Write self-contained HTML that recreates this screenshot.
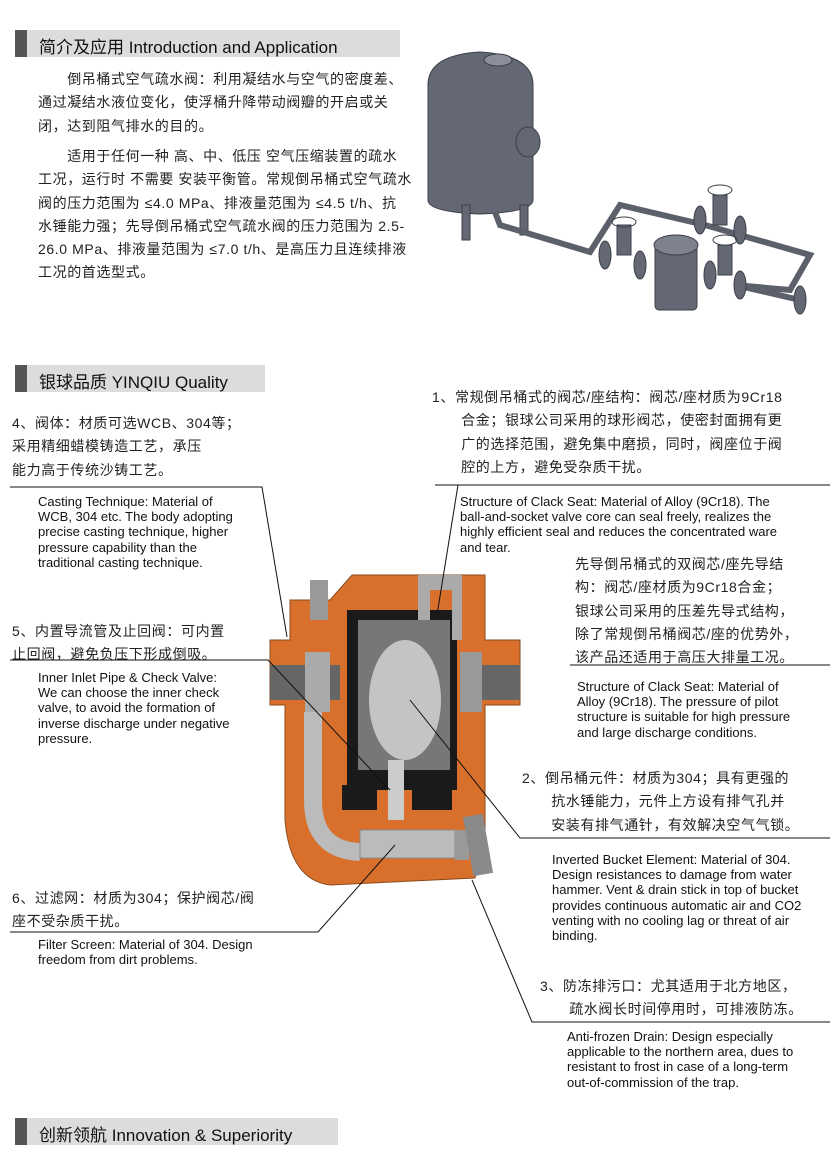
<!DOCTYPE html>
<html><head><meta charset="utf-8"><style>
body{margin:0;background:#fff;}
#p{position:relative;width:840px;height:1155px;overflow:hidden;font-family:"Liberation Sans","Noto Sans CJK SC",sans-serif;color:#222;}
.h{position:absolute;left:15px;height:27px;background:#dcdcdc;}
.h i{position:absolute;left:0;top:0;width:12px;height:27px;background:#555;}
.h span{position:absolute;left:24px;top:3px;font-size:17px;white-space:nowrap;color:#111;}
.t{position:absolute;font-size:14px;line-height:23.3px;white-space:nowrap;letter-spacing:0.6px;}
.e{position:absolute;font-size:13px;line-height:15.2px;white-space:nowrap;color:#111;}
</style></head><body><div id="p">
<div class="h" style="top:30px;width:385px"><i></i><span>简介及应用 Introduction and Application</span></div>
<div class="h" style="top:365px;width:250px"><i></i><span>银球品质 YINQIU Quality</span></div>
<div class="h" style="top:1118px;width:323px"><i></i><span>创新领航 Innovation &amp; Superiority</span></div>

<div class="t" style="left:38px;top:68px">　　倒吊桶式空气疏水阀：利用凝结水与空气的密度差、<br>通过凝结水液位变化，使浮桶升降带动阀瓣的开启或关<br>闭，达到阻气排水的目的。</div>
<div class="t" style="left:38px;top:145px">　　适用于任何一种 高、中、低压 空气压缩装置的疏水<br>工况，运行时 不需要 安装平衡管。常规倒吊桶式空气疏水<br>阀的压力范围为 ≤4.0 MPa、排液量范围为 ≤4.5 t/h、抗<br>水锤能力强；先导倒吊桶式空气疏水阀的压力范围为 2.5-<br>26.0 MPa、排液量范围为 ≤7.0 t/h、是高压力且连续排液<br>工况的首选型式。</div>

<svg style="position:absolute;left:0;top:0" width="840" height="1155">
<g fill="#646875" stroke="#3c3f47" stroke-width="1">
<path d="M428 85 Q428 55 480 52 Q533 55 533 85 L533 200 Q533 212 480 214 Q428 212 428 200 Z"/>
<ellipse cx="498" cy="60" rx="14" ry="6" fill="#8a8f9a"/>
<rect x="462" y="205" width="8" height="35"/><rect x="520" y="205" width="8" height="30"/>
<ellipse cx="528" cy="142" rx="12" ry="15"/>
<path d="M495 212 L500 225 L590 252 L620 205 L705 225 L810 255 L790 290 L735 285" fill="none" stroke="#5c606b" stroke-width="6"/>
<path d="M735 285 L800 300" fill="none" stroke="#5c606b" stroke-width="6"/>
<rect x="655" y="240" width="42" height="70" rx="4"/>
<ellipse cx="676" cy="245" rx="22" ry="10" fill="#7d828d"/>
<ellipse cx="605" cy="255" rx="6" ry="14"/><ellipse cx="640" cy="265" rx="6" ry="14"/>
<ellipse cx="710" cy="275" rx="6" ry="14"/><ellipse cx="740" cy="285" rx="6" ry="14"/>
<ellipse cx="700" cy="220" rx="6" ry="14"/><ellipse cx="740" cy="230" rx="6" ry="14"/>
<ellipse cx="800" cy="300" rx="6" ry="14"/>
<rect x="617" y="225" width="14" height="30"/><rect x="713" y="195" width="14" height="30"/><rect x="718" y="245" width="14" height="30"/>
<ellipse cx="624" cy="222" rx="12" ry="5" fill="none"/><ellipse cx="720" cy="190" rx="12" ry="5" fill="none"/><ellipse cx="725" cy="240" rx="12" ry="5" fill="none"/>
</g>
<path d="M352 575 L485 575 L485 640 L520 640 L520 705 L485 705 L485 830 L475 878 L330 885 Q290 880 285 820 L285 705 L270 705 L270 640 L290 640 L290 600 L330 600 Z" fill="#d8702c" stroke="#8a4a1a"/>
<rect x="347" y="610" width="110" height="180" fill="#1a1a1a"/>
<rect x="358" y="620" width="92" height="150" fill="#777"/>
<ellipse cx="405" cy="700" rx="36" ry="60" fill="#e6e6e6" opacity="0.7"/>
<rect x="342" y="785" width="35" height="25" fill="#1a1a1a"/><rect x="412" y="785" width="40" height="25" fill="#1a1a1a"/>
<rect x="388" y="760" width="16" height="60" fill="#ccc"/>
<rect x="270" y="665" width="70" height="35" fill="#666"/><rect x="305" y="652" width="25" height="60" fill="#aaa"/>
<rect x="460" y="665" width="60" height="35" fill="#666"/><rect x="460" y="652" width="22" height="60" fill="#999"/>
<path d="M313 712 L313 800 Q313 850 360 852" fill="none" stroke="#bbb" stroke-width="18"/>
<rect x="360" y="830" width="95" height="28" fill="#bbb" stroke="#888"/>
<rect x="455" y="830" width="14" height="30" fill="#999"/>
<rect x="468" y="815" width="20" height="60" fill="#8a8a8a" transform="rotate(-10 478 845)"/>
<rect x="310" y="580" width="18" height="40" fill="#999"/>
<path d="M418 575 L462 575 L462 640 L452 640 L452 590 L430 590 L430 620 L418 620Z" fill="#aaa"/>
<g stroke="#111" stroke-width="1" fill="none">
<path d="M10 487 L262 487 L287 637"/>
<path d="M10 660 L268 660 L390 790"/>
<path d="M10 932 L318 932 L395 845"/>
<path d="M435 485 L830 485"/><path d="M458 485 L437 615"/>
<path d="M570 665 L830 665"/>
<path d="M830 838 L520 838 L410 700"/>
<path d="M830 1022 L532 1022 L472 880"/>
</g>
</svg>

<div class="t" style="left:12px;top:412px">4、阀体：材质可选WCB、304等；<br>采用精细蜡模铸造工艺，承压<br>能力高于传统沙铸工艺。</div>
<div class="e" style="left:38px;top:494px">Casting Technique: Material of<br>WCB, 304 etc. The body adopting<br>precise casting technique, higher<br>pressure capability than the<br>traditional casting technique.</div>
<div class="t" style="left:12px;top:620px">5、内置导流管及止回阀：可内置<br>止回阀，避免负压下形成倒吸。</div>
<div class="e" style="left:38px;top:670px">Inner Inlet Pipe &amp; Check Valve:<br>We can choose the inner check<br>valve, to avoid the formation of<br>inverse discharge under negative<br>pressure.</div>
<div class="t" style="left:12px;top:887px">6、过滤网：材质为304；保护阀芯/阀<br>座不受杂质干扰。</div>
<div class="e" style="left:38px;top:937px">Filter Screen: Material of 304. Design<br>freedom from dirt problems.</div>

<div class="t" style="left:432px;top:386px">1、常规倒吊桶式的阀芯/座结构：阀芯/座材质为9Cr18<br>　　合金；银球公司采用的球形阀芯，使密封面拥有更<br>　　广的选择范围，避免集中磨损，同时，阀座位于阀<br>　　腔的上方，避免受杂质干扰。</div>
<div class="e" style="left:460px;top:494px">Structure of Clack Seat: Material of Alloy (9Cr18). The<br>ball-and-socket valve core can seal freely, realizes the<br>highly efficient seal and reduces the concentrated ware<br>and tear.</div>
<div class="t" style="left:575px;top:553px">先导倒吊桶式的双阀芯/座先导结<br>构：阀芯/座材质为9Cr18合金；<br>银球公司采用的压差先导式结构，<br>除了常规倒吊桶阀芯/座的优势外，<br>该产品还适用于高压大排量工况。</div>
<div class="e" style="left:577px;top:679px">Structure of Clack Seat: Material of<br>Alloy (9Cr18). The pressure of pilot<br>structure is suitable for high pressure<br>and large discharge conditions.</div>
<div class="t" style="left:522px;top:767px">2、倒吊桶元件：材质为304；具有更强的<br>　　抗水锤能力，元件上方设有排气孔并<br>　　安装有排气通针，有效解决空气气锁。</div>
<div class="e" style="left:552px;top:852px">Inverted Bucket Element: Material of 304.<br>Design resistances to damage from water<br>hammer. Vent &amp; drain stick in top of bucket<br>provides continuous automatic air and CO2<br>venting with no cooling lag or threat of air<br>binding.</div>
<div class="t" style="left:540px;top:975px">3、防冻排污口：尤其适用于北方地区，<br>　　疏水阀长时间停用时，可排液防冻。</div>
<div class="e" style="left:567px;top:1029px">Anti-frozen Drain: Design especially<br>applicable to the northern area, dues to<br>resistant to frost in case of a long-term<br>out-of-commission of the trap.</div>
</div></body></html>
